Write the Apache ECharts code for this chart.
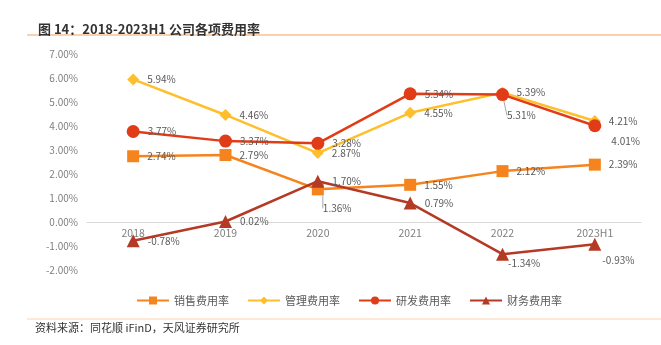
<!DOCTYPE html>
<html><head><meta charset="utf-8">
<script src="https://cdn.jsdelivr.net/npm/echarts@6/dist/echarts.min.js"></script>
<style>html,body{margin:0;padding:0;background:#fff}#c{width:661px;height:345px}</style>
</head><body><div id="c"></div>
<script>
const categories = ['2018','2019','2020','2021','2022','2023H1'];
const sales = [2.74, 2.79, 1.36, 1.55, 2.12, 2.39];
const admin = [5.94, 4.46, 2.87, 4.55, 5.39, 4.21];
const rnd = [3.77, 3.37, 3.28, 5.34, 5.31, 4.01];
const fin = [-0.78, 0.02, 1.70, 0.79, -1.34, -0.93];
const seriesNames = ['销售费用率','管理费用率','研发费用率','财务费用率'];

const FONT = '"Noto Sans CJK SC","Noto Sans",sans-serif';
const chart = echarts.init(document.getElementById('c'));

// label shifts for crowded points: {seriesIdx: {dataIdx: [dx,dy]}}
const shifts = {
  0: {2: [-9, 19]},
  2: {4: [-10, 21], 5: [2, 15]},
  3: {4: [-9, 9], 5: [-7, 16]}
};
const leaders = {0: [2], 2: [4]};

function mk(name, data, color, symbol, size, si) {
  return {
    name, type: 'line', data: data.map((v, i) => ({
      value: v,
      labelLine: {show: (leaders[si] || []).includes(i), lineStyle: {color: '#a6a6a6', width: 1}}
    })),
    symbol, symbolSize: size,
    lineStyle: {color, width: 2.5},
    itemStyle: {color},
    label: {show: true, position: 'right', distance: 8, color: '#595959', fontSize: 10, fontFamily: FONT,
      formatter: p => p.value.toFixed(2) + '%'},
    labelLayout: function (p) {
      const s = shifts[si] && shifts[si][p.dataIndex];
      return s ? {dx: s[0], dy: s[1]} : {};
    },
    z: 2 + si
  };
}

chart.setOption({
  animation: false,
  title: {text: '图 14：2018-2023H1 公司各项费用率', left: 33, top: 18,
    textStyle: {fontSize: 13, fontWeight: 'bold', color: '#333', fontFamily: FONT}},
  graphic: [
    {type: 'line', shape: {x1: 27, y1: 35, x2: 661, y2: 35}, style: {stroke: '#F4A460', lineWidth: 1.2}},
    {type: 'line', shape: {x1: 27, y1: 319, x2: 661, y2: 319}, style: {stroke: '#FAD2B4', lineWidth: 1}},
    {type: 'text', left: 35, top: 322, style: {text: '资料来源：同花顺 iFinD，天风证券研究所', fontSize: 11, fill: '#333', fontFamily: FONT}}
  ],
  legend: {
    data: seriesNames, top: 290, left: 131, itemGap: 18, itemWidth: 32, itemHeight: 10,
    textStyle: {fontSize: 11, color: '#595959', fontFamily: FONT}
  },
  grid: {left: 87, right: 20, top: 54, bottom: 75, containLabel: false},
  xAxis: {
    type: 'category', data: categories, boundaryGap: true,
    axisLine: {onZero: true, lineStyle: {color: '#d9d9d9', width: 1}},
    axisTick: {show: false},
    axisLabel: {color: '#7f7f7f', fontSize: 10.5, fontFamily: FONT, margin: -42}
  },
  yAxis: {
    type: 'value', min: -2, max: 7, interval: 1,
    axisLine: {show: false}, axisTick: {show: false}, splitLine: {show: false},
    axisLabel: {color: '#7f7f7f', fontSize: 10, fontFamily: FONT, margin: 9,
      formatter: v => v.toFixed(2) + '%'}
  },
  series: [
    mk(seriesNames[0], sales, '#F5841F', 'rect', 12, 0),
    mk(seriesNames[1], admin, '#FFBF2A', 'diamond', 12, 1),
    mk(seriesNames[2], rnd, '#E03C17', 'circle', 13, 2),
    mk(seriesNames[3], fin, '#B53A25', 'triangle', 13, 3)
  ]
});
</script></body></html>
